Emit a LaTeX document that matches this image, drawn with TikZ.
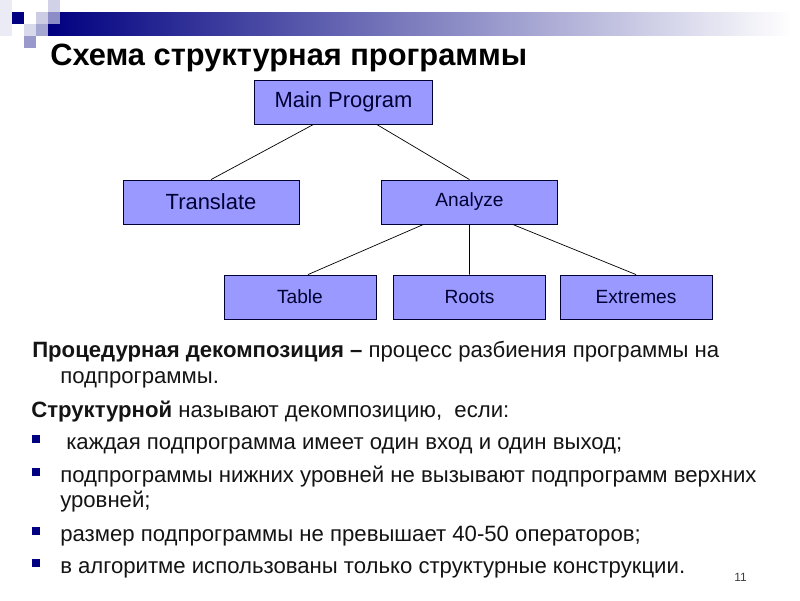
\documentclass[tikz,border=0pt]{standalone}
\usepackage{fontspec}
\setmainfont{Liberation Sans}
\definecolor{barnavy}{RGB}{0,0,128}
\definecolor{boxfill}{RGB}{153,153,255}
\definecolor{boxline}{RGB}{0,0,51}
\definecolor{bodytext}{RGB}{20,20,20}
\begin{document}
\begin{tikzpicture}[x=0.025cm,y=-0.025cm,
        box/.style={draw=boxline,fill=boxfill,line width=0.6pt,text=boxline,minimum height=1.1cm,inner sep=0pt},
        bigbox/.style={box,font=\fontsize{15.6}{18}\selectfont},
        smallbox/.style={box,font=\fontsize{13.6}{16}\selectfont},
        link/.style={draw=black,line width=0.5pt},
        body/.style={anchor=base west,inner sep=0pt,text=bodytext,font=\fontsize{15.75}{19}\selectfont},
        bullet/.style={fill=barnavy,minimum size=0.2cm,inner sep=0pt}]
        \useasboundingbox[fill=white] (0,0) rectangle (800,600);
        % header bar and squares
        \shade[left color=barnavy,right color=white] (48,12) rectangle (792,35);
        \fill[barnavy!8] (0,0) rectangle (12,36);
        \fill[barnavy] (12,12) rectangle (24,24);
        \fill[barnavy!20] (36,12) rectangle (48,24);
        \fill[barnavy!18] (48,0) rectangle (60,12);
        \fill[barnavy!45] (48,12) rectangle (60,24);
        \fill[barnavy!15] (24,24) rectangle (36,36);
        \fill[barnavy!35] (36,24) rectangle (48,36);
        \fill[barnavy!40] (24,36) rectangle (36,48);
        \node[anchor=base west,inner sep=0pt,font=\fontsize{21.9}{26}\selectfont\bfseries] (title) at (50,65) {Схема структурная программы};
        % tree
        \draw (343.5,102) node[bigbox,minimum width=4.43cm] (main) {Main Program};
        \draw (211,202) node[bigbox,minimum width=4.4cm] (translate) {Translate};
        \draw (469.5,202) node[smallbox,minimum width=4.38cm] (analyze) {Analyze};
        \draw (300,297) node[smallbox,minimum width=3.8cm] (table) {Table};
        \draw (469.5,297) node[smallbox,minimum width=3.78cm] (roots) {Roots};
        \draw (636,297) node[smallbox,minimum width=3.8cm] (extremes) {Extremes};
        \draw[link] ([xshift=-0.75cm]main.south) -- (translate.north)
              ([xshift=0.83cm]main.south) -- (analyze.north);
        \draw[link] ([xshift=-1.15cm]analyze.south) -- ([xshift=0.2cm]table.north)
              (analyze.south) -- (roots.north)
              ([xshift=1.08cm]analyze.south) -- (extremes.north);
        % text
        \node[body] (def1) at (32,357) {\bfseries Процедурная декомпозиция –\mdseries{} процесс разбиения программы на};
        \node[body] (def2) at (60,383) {подпрограммы.};
        \node[body] (cond) at (31,417) {\bfseries Структурной\mdseries{} называют декомпозицию,\ \ если:};
        \node[body] (item1) at (66,449) {каждая подпрограмма имеет один вход и один выход;};
        \node[body] (item2) at (60,482) {подпрограммы нижних уровней не вызывают подпрограмм верхних};
        \node[body] (item2b) at (60,507) {уровней;};
        \node[body] (item3) at (60,541) {размер подпрограммы не превышает 40-50 операторов;};
        \node[body] (item4) at (60,573) {в алгоритме использованы только структурные конструкции.};
        \node[bullet] (dot1) at (36,439) {};
        \node[bullet] (dot2) at (36,472) {};
        \node[bullet] (dot3) at (36,531) {};
        \node[bullet] (dot4) at (36,563) {};
        \node[anchor=base west,inner sep=0pt,text=black!75,font=\fontsize{8.5}{10}\selectfont] (page) at (734,581) {11};
\end{tikzpicture}
\end{document}
